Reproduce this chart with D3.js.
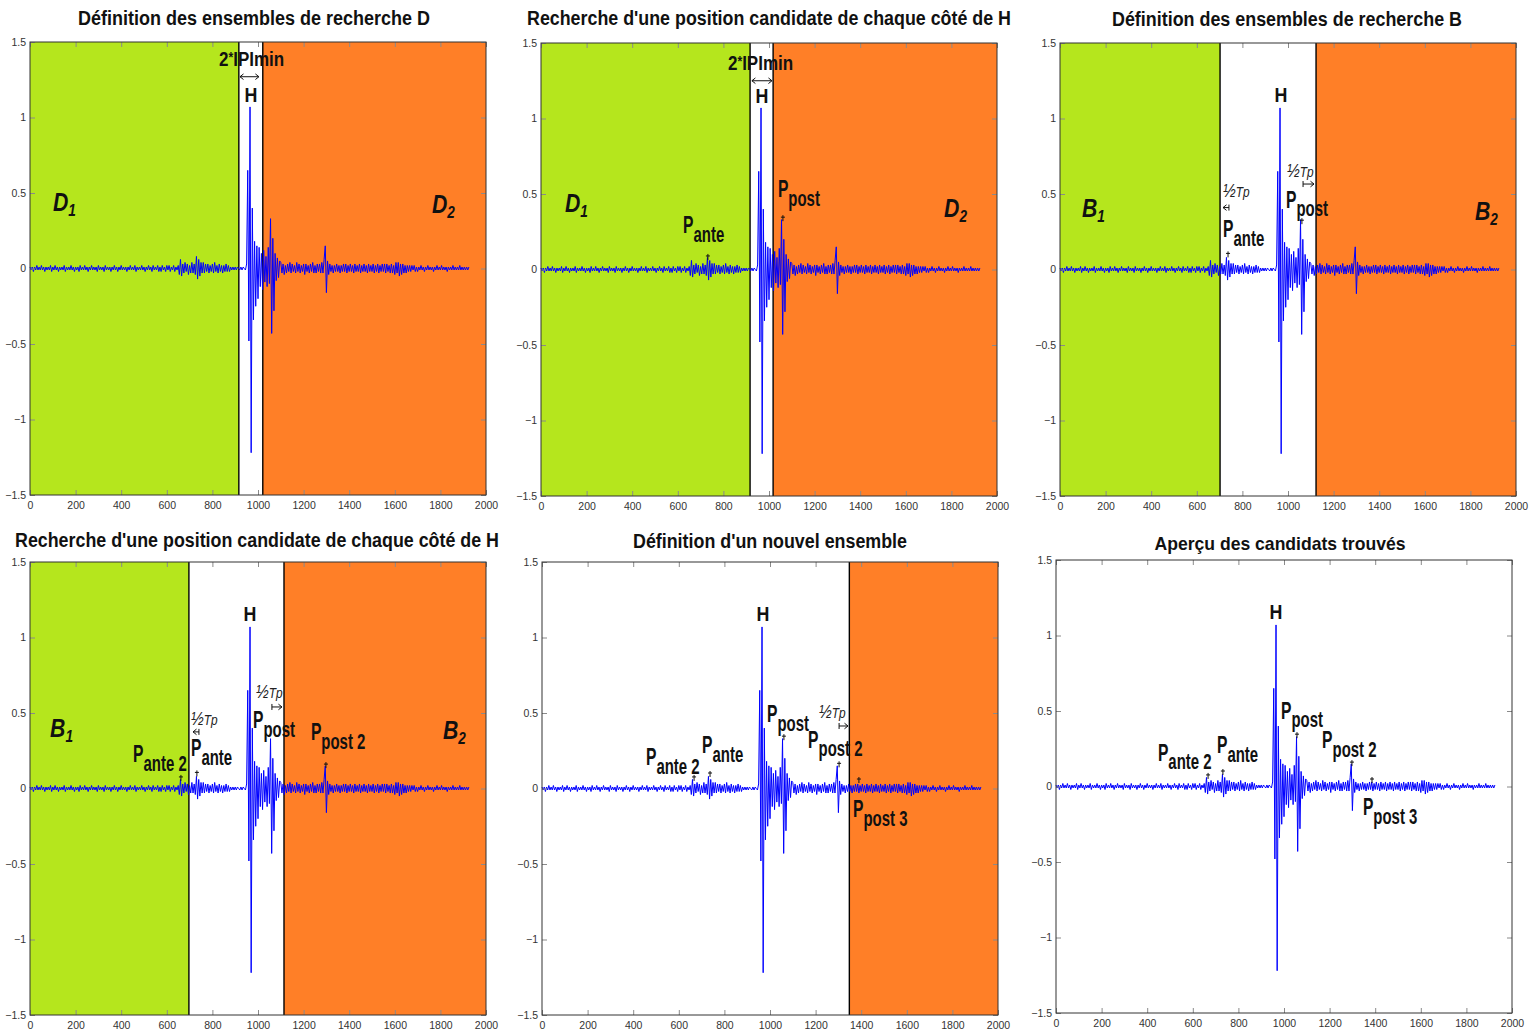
<!DOCTYPE html>
<html><head><meta charset="utf-8">
<script src="https://cdn.jsdelivr.net/npm/d3@7"></script>
<style>
body{margin:0;background:#fff}
svg{display:block}
text{font-family:"Liberation Sans",Arial,Helvetica,sans-serif}
</style>
</head><body>
<svg id="c" width="1529" height="1036"></svg>
<script>
// ---------- DATA ----------
const signalStep = 5; // sample spacing (x units)
// signal amplitude in hundredths, one value every 5 x-units starting at 0
const signalCenti = [
 1,-1,1,-2,1,-1,2,-1,1,-1,
 2,-1,1,-2,1,-1,1,-1,2,-2,
 1,-1,2,-1,1,-2,1,-1,1,-1,
 2,-2,1,-1,1,-1,2,-1,1,-2,
 1,-1,1,-2,2,-1,1,-1,2,-1,
 1,-2,1,-1,2,-1,1,-1,1,-2,
 2,-1,1,-1,1,-2,2,-1,1,-1,
 1,-2,1,-1,2,-1,1,-2,1,-1,
 2,-1,1,-1,1,-2,1,-1,2,-1,
 1,-1,2,-2,1,-1,1,-1,2,-1,
 1,-2,1,-1,2,-1,1,-2,2,-1,
 1,-1,2,-2,1,-2,2,-1,1,-2,
 2,-1,2,-2,1,-1,2,-2,1,-1,
 2,-4,6,-5,3,-3,4,-2,3,-4,2,-3,4,-3,3,-4,8,-7,6,-5,4,-3,
 4,-3,3,-2,3,-3,2,-2,3,-3,4,-2,2,-3,3,-2,2,-3,2,-2,3,-2,2,-2,1,-1,1,-1,
 1,-1,1,0,-1,1,-1,1,0,-1,
 3,65,-48,107,-122,40,-34,18,-25,15,-20,14,-12,10,-14,12,-9,8,-12,14,-10,33,-43,20,-28,10,-8,7,-6,5,
 4,-3,3,-4,2,-3,3,-2,4,-3,
 3,-2,2,-3,4,-2,3,-3,2,-2,
 3,-4,3,-2,2,-3,3,-2,4,-3,
 2,-3,3,-2,3,-3,4,
 -3,6,15,-16,5,-4,
 3,-2,2,-3,2,-2,3,-2,2,-3,
 2,-2,3,-2,3,-3,2,-2,3,-2,
 2,-3,3,-2,2,-2,3,-3,2,-2,
 3,-2,2,-3,3,-2,2,-2,3,-3,
 2,-2,3,-3,2,-2,3,-2,3,-3,
 3,-2,2,-3,3,-3,2,-4,4,-3,
 4,-5,3,-4,3,-3,2,-3,2,-2,
 2,-2,2,-1,2,-2,1,-2,
 1,-1,2,-1,1,-2,1,-1,2,-1,
 1,-1,1,-2,1,-1,2,-1,1,-1,
 2,-1,1,-1,1,-2,1,-1,1,-1,
 2,-1,1,-1,1,-1,2,-1,1,-1,
 1,-1,1,-1,1
];
const xTicks = [0,200,400,600,800,1000,1200,1400,1600,1800,2000];
const yTicks = [-1.5,-1,-0.5,0,0.5,1,1.5];
const titles = [
 "Définition des ensembles de recherche D",
 "Recherche d'une position candidate de chaque côté de H",
 "Définition des ensembles de recherche B",
 "Recherche d'une position candidate de chaque côté de H",
 "Définition d'un nouvel ensemble",
 "Aperçu des candidats trouvés"
];
// search sets [start, end] in x units (green = left set, orange = right set)
const greenSets  = [[0,916],[0,917],[0,702],[0,697],null,null];
const orangeSets = [[1021,2000],[1018,2000],[1123,2000],[1114,2000],[1348,2000],null];
// annotations in data coordinates
const annotations = [
 [
  {k:'ipi', x:829, y:1.34},
  {k:'both', x0:921, x1:1004, y:1.27},
  {k:'H', x:969, y:1.10},
  {k:'set', t:'D', s:'1', x:101, y:0.38},
  {k:'set', t:'D', s:'2', x:1763, y:0.37}
 ],
 [
  {k:'ipi', x:820, y:1.32},
  {k:'both', x0:925, x1:1013, y:1.25},
  {k:'H', x:969, y:1.10},
  {k:'set', t:'D', s:'1', x:105, y:0.38},
  {k:'set', t:'D', s:'2', x:1768, y:0.35},
  {k:'P', s:'ante', x:623, y:0.24},
  {k:'mark', x:732, y:0.083},
  {k:'P', s:'post', x:1039, y:0.48},
  {k:'mark', x:1061, y:0.34}
 ],
 [
  {k:'H', x:969, y:1.11},
  {k:'set', t:'B', s:'1', x:96, y:0.35},
  {k:'set', t:'B', s:'2', x:1820, y:0.33},
  {k:'tp', x:715, y:0.48},
  {k:'left', x0:715, x1:741, y:0.41},
  {k:'P', s:'ante', x:715, y:0.215},
  {k:'mark', x:737, y:0.10},
  {k:'tp', x:996, y:0.61},
  {k:'right', x0:1066, x1:1114, y:0.566},
  {k:'P', s:'post', x:991, y:0.41},
  {k:'mark', x:1061, y:0.32}
 ],
 [
  {k:'H', x:965, y:1.11},
  {k:'set', t:'B', s:'1', x:88, y:0.34},
  {k:'set', t:'B', s:'2', x:1811, y:0.33},
  {k:'P', s:'ante 2', x:452, y:0.175},
  {k:'mark', x:662, y:0.07},
  {k:'tp', x:706, y:0.42},
  {k:'left', x0:715, x1:741, y:0.375},
  {k:'P', s:'ante', x:706, y:0.215},
  {k:'mark', x:732, y:0.10},
  {k:'tp', x:991, y:0.60},
  {k:'right', x0:1061, x1:1105, y:0.54},
  {k:'P', s:'post', x:978, y:0.40},
  {k:'P', s:'post 2', x:1232, y:0.32},
  {k:'mark', x:1298, y:0.155}
 ],
 [
  {k:'H', x:969, y:1.11},
  {k:'P', s:'ante 2', x:456, y:0.155},
  {k:'mark', x:667, y:0.07},
  {k:'P', s:'ante', x:702, y:0.235},
  {k:'mark', x:737, y:0.096},
  {k:'P', s:'post', x:987, y:0.44},
  {k:'mark', x:1061, y:0.34},
  {k:'tp', x:1215, y:0.467},
  {k:'right', x0:1303, x1:1342, y:0.414},
  {k:'P', s:'post 2', x:1167, y:0.27},
  {k:'mark', x:1303, y:0.16},
  {k:'P', s:'post 3', x:1364, y:-0.19},
  {k:'mark', x:1390, y:0.056}
 ],
 [
  {k:'H', x:965, y:1.11},
  {k:'P', s:'ante 2', x:447, y:0.17},
  {k:'mark', x:667, y:0.07},
  {k:'P', s:'ante', x:706, y:0.22},
  {k:'mark', x:732, y:0.096},
  {k:'P', s:'post', x:987, y:0.45},
  {k:'mark', x:1057, y:0.34},
  {k:'P', s:'post 2', x:1167, y:0.255},
  {k:'mark', x:1298, y:0.155},
  {k:'P', s:'post 3', x:1346, y:-0.19},
  {k:'mark', x:1386, y:0.043}
 ]
];

// ---------- LAYOUT ----------
const layout = [
 {l:30,  t:42,  w:456, h:453, tx:254,  ty:25,  tw:352, fs:20},
 {l:541, t:43,  w:456, h:453, tx:769,  ty:25,  tw:484, fs:20},
 {l:1060,t:43,  w:456, h:453, tx:1287, ty:26,  tw:350, fs:20},
 {l:30,  t:562, w:456, h:453, tx:257,  ty:547, tw:484, fs:20},
 {l:542, t:562, w:456, h:453, tx:770,  ty:548, tw:274, fs:20},
 {l:1056,t:560, w:456, h:453, tx:1280, ty:550, tw:251, fs:19}
];
const GREEN = "#B5E61D", ORANGE = "#FF7F27", BLUE = "#0000FF";

const svg = d3.select("#c");
const points = signalCenti.map((v,i)=>({x:i*signalStep, y:v/100}));

layout.forEach((L, p) => {
  const x = d3.scaleLinear().domain([0,2000]).range([L.l, L.l+L.w]);
  const y = d3.scaleLinear().domain([-1.5,1.5]).range([L.t+L.h, L.t]);
  const g = svg.append("g");

  // title
  g.append("text").attr("x", L.tx).attr("y", L.ty)
   .attr("text-anchor","middle").attr("font-weight","bold").attr("font-size", L.fs)
   .attr("textLength", L.tw).attr("lengthAdjust","spacingAndGlyphs")
   .attr("fill","#111").text(titles[p]);

  // regions
  const sets = [[greenSets[p], GREEN],[orangeSets[p], ORANGE]];
  sets.forEach(([s,c]) => {
    if (!s) return;
    g.append("rect").attr("x", x(s[0])).attr("y", y(1.5))
     .attr("width", x(s[1])-x(s[0])).attr("height", y(-1.5)-y(1.5)).attr("fill", c);
  });
  // boundary lines
  const bounds = [];
  if (greenSets[p]) bounds.push(greenSets[p][1]);
  if (orangeSets[p]) bounds.push(orangeSets[p][0]);
  bounds.forEach(b => {
    g.append("line").attr("x1", x(b)).attr("x2", x(b)).attr("y1", y(1.5)).attr("y2", y(-1.5))
     .attr("stroke","#000").attr("stroke-width",1.4);
  });

  // signal
  const line = d3.line().x(d=>x(d.x)).y(d=>y(d.y));
  g.append("path").datum(points).attr("d", line).attr("fill","none")
   .attr("stroke", BLUE).attr("stroke-width", 1).attr("stroke-linejoin","round");

  // axes (MATLAB-like, ticks inside, box)
  const xb = g.append("g").attr("transform", `translate(0,${L.t+L.h})`)
    .call(d3.axisBottom(x).tickValues(xTicks).tickSize(-5).tickPadding(7).tickFormat(d3.format("d")));
  const xt = g.append("g").attr("transform", `translate(0,${L.t})`)
    .call(d3.axisTop(x).tickValues(xTicks).tickSize(-5).tickFormat(""));
  const yl = g.append("g").attr("transform", `translate(${L.l},0)`)
    .call(d3.axisLeft(y).tickValues(yTicks).tickSize(-5).tickPadding(4)
      .tickFormat(d => d3.format("")(d).replace("-", "\u2212")));
  const yr = g.append("g").attr("transform", `translate(${L.l+L.w},0)`)
    .call(d3.axisRight(y).tickValues(yTicks).tickSize(-5).tickFormat(""));
  [xb,xt,yl,yr].forEach(a => {
    a.select(".domain").remove();
    a.selectAll(".tick line").attr("stroke","#8a8a8a");
    a.selectAll(".tick text").attr("font-size", 10.5).attr("fill","#333")
      .attr("font-family", '"Liberation Sans",Arial,sans-serif');
  });
  g.append("rect").attr("x", L.l).attr("y", L.t).attr("width", L.w).attr("height", L.h)
   .attr("fill","none").attr("stroke","#333").attr("stroke-width",1);

  // annotations
  annotations[p].forEach(a => {
    if (a.k === 'P') {
      const t = g.append("g").attr("transform", `translate(${x(a.x)},${y(a.y)}) scale(0.68,1)`)
        .append("text").attr("font-weight","bold").attr("fill","#111");
      t.append("tspan").attr("font-size", 23).text("P");
      t.append("tspan").attr("font-size", 22).attr("dy", 8.5).text(a.s);
    } else if (a.k === 'set') {
      const t = g.append("g").attr("transform", `translate(${x(a.x)},${y(a.y)}) scale(0.85,1)`)
        .append("text").attr("font-weight","bold").attr("font-style","italic").attr("fill","#111");
      t.append("tspan").attr("font-size", 25).text(a.t);
      t.append("tspan").attr("font-size", 16).attr("dy", 5).text(a.s);
    } else if (a.k === 'H') {
      g.append("g").attr("transform", `translate(${x(a.x)},${y(a.y)}) scale(0.85,1)`)
       .append("text").attr("text-anchor","middle").attr("font-weight","bold")
       .attr("font-size", 21).attr("fill","#111").text("H");
    } else if (a.k === 'ipi') {
      const t = g.append("g").attr("transform", `translate(${x(a.x)},${y(a.y)}) scale(0.81,1)`)
        .append("text").attr("font-weight","bold").attr("font-size", 21).attr("fill","#111");
      t.append("tspan").text("2");
      t.append("tspan").attr("font-size", 15).attr("dy", -4).text("*");
      t.append("tspan").attr("dy", 4).text("IPImin");
    } else if (a.k === 'tp') {
      const t = g.append("g").attr("transform", `translate(${x(a.x)},${y(a.y)}) scale(0.85,1)`)
        .append("text").attr("font-style","italic").attr("fill","#222");
      t.append("tspan").attr("font-size", 18).text("\u00BD");
      t.append("tspan").attr("font-size", 14).text("Tp");
    } else if (a.k === 'mark') {
      const cx = x(a.x), cy = y(a.y);
      g.append("path").attr("d", `M${cx},${cy-3}V${cy+3}M${cx-2},${cy-1}H${cx+2}`)
       .attr("stroke","#111").attr("stroke-width",1).attr("fill","none");
    } else {
      const x0 = x(a.x0), x1 = x(a.x1), yy = y(a.y);
      let d = `M${x0},${yy}H${x1}`;
      const head = 3.5;
      if (a.k === 'right' || a.k === 'both') d += `M${x1-head},${yy-head*0.8}L${x1},${yy}L${x1-head},${yy+head*0.8}`;
      if (a.k === 'left'  || a.k === 'both') d += `M${x0+head},${yy-head*0.8}L${x0},${yy}L${x0+head},${yy+head*0.8}`;
      if (a.k === 'right') d += `M${x0},${yy-3}V${yy+3}`;
      if (a.k === 'left')  d += `M${x1},${yy-3}V${yy+3}`;
      g.append("path").attr("d", d).attr("stroke","#111").attr("stroke-width",1).attr("fill","none");
    }
  });
});
</script>
</body></html>
